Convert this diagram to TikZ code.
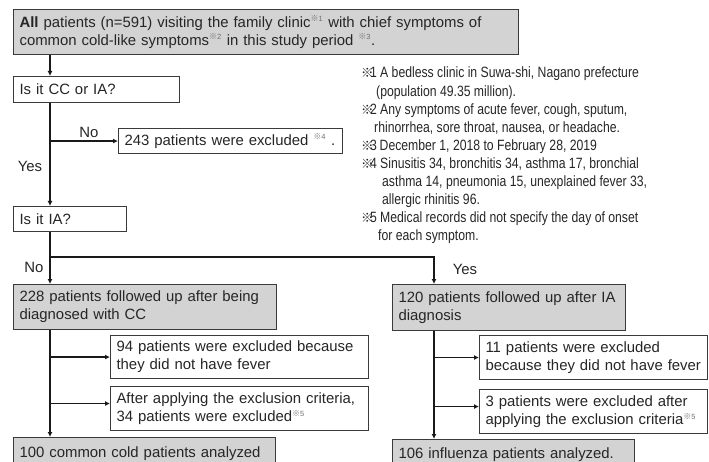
\documentclass[tikz,border=0pt]{standalone}
\usepackage{fontspec}
\setmainfont{Liberation Sans}
\newfontfamily\notefont[FakeStretch=0.82]{Liberation Sans}
\newfontfamily\refmfont{Noto Sans CJK JP}
\usetikzlibrary{arrows.meta}
\definecolor{boxgray}{HTML}{D3D3D3}
\definecolor{txt}{HTML}{262626}
\definecolor{edge}{HTML}{3A3A3A}
\definecolor{supc}{HTML}{707070}
\newcommand\rmk[1]{\textsuperscript{\color{supc}{\refmfont\fontsize{8}{8}\selectfont ※}{\fontsize{7.5}{7.5}\selectfont #1}}}
\newcommand\nlab[1]{\makebox[9pt][l]{\refmfont\fontsize{12.5}{12.5}\selectfont ※}#1}
\tikzset{
  box/.style={draw=edge, line width=1.1pt, anchor=north west, align=left,
    inner xsep=6pt, inner ysep=0pt, text=txt,
    font=\fontsize{14.9}{18}\selectfont},
  grey/.style={box, fill=boxgray},
  white/.style={box, fill=white},
  arr/.style={line width=1.8pt, draw=black!90, -{Latex[length=5pt,width=5pt]}},
  lin/.style={line width=1.8pt, draw=black!90},
  lab/.style={text=txt, font=\fontsize{14.9}{18}\selectfont, inner sep=0pt},
  note/.style={text=txt, font=\notefont\fontsize{14.9}{18}\selectfont, inner sep=0pt, anchor=base west},
}
\begin{document}
\begin{tikzpicture}[x=1pt,y=-1pt]
\path[use as bounding box] (0,0) rectangle (709,462);
\clip (0,0) rectangle (709,462);
\coordinate (sp) at (50,0);
\coordinate (sp2) at (434,0);
\coordinate (j) at (50,257);

\node[grey, minimum width=505pt, minimum height=45pt, text width=493pt] (top) at (13,9)
  {\textbf{All} patients (n=591) visiting the family clinic\rmk{1} with chief symptoms of\\common cold-like symptoms\rmk{2} in this study period \rmk{3}.};
\node[white, minimum width=166pt, minimum height=26pt, text width=154pt] (q1) at (13,76) {Is it CC or IA?};
\node[white, minimum width=224pt, minimum height=25pt, text width=212pt] (ex1) at (118,128) {243 patients were excluded \rmk{4} .};
\node[white, minimum width=113pt, minimum height=25pt, text width=101pt] (q2) at (13,206) {Is it IA?};
\node[grey, minimum width=263pt, minimum height=45pt, text width=251pt] (cc) at (13,284) {228 patients followed up after being\\diagnosed with CC};
\node[grey, minimum width=233pt, minimum height=46pt, text width=221pt] (ia) at (392,284) {120 patients followed up after IA\\diagnosis};
\node[white, minimum width=258pt, minimum height=43pt, text width=246pt] (ccx1) at (110,335) {94 patients were excluded because\\they did not have fever};
\node[white, minimum width=258pt, minimum height=44pt, text width=246pt] (ccx2) at (110,386) {After applying the exclusion criteria,\\34 patients were excluded\rmk{5}};
\node[white, minimum width=228pt, minimum height=44pt, text width=216pt] (iax1) at (479,335) {11 patients were excluded\\because they did not have fever};
\node[white, minimum width=228pt, minimum height=44pt, text width=216pt] (iax2) at (479,389) {3 patients were excluded after\\applying the exclusion criteria\rmk{5}};
\node[grey, minimum width=262pt, minimum height=32pt, text width=250pt] (ccf) at (13,437) {100 common cold patients analyzed};
\node[grey, minimum width=242pt, minimum height=30pt, text width=230pt] (iaf) at (392,439) {106 influenza patients analyzed.};

% labels
\node[lab] (no1) at (89,132) {No};
\node[lab] (yes1) at (30,166) {Yes};
\node[lab] (no2) at (34,267) {No};
\node[lab] (yes2) at (465,269) {Yes};

% connectors
\draw[arr] (top.south -| sp) -- (q1.north -| sp);
\draw[arr] (q1.south -| sp) -- (q2.north -| sp);
\draw[arr] (sp |- ex1.west) -- (ex1.west);
\draw[lin] (q2.south -| sp) -- (j);
\draw[arr] (j) -| (ia.north -| sp2);
\draw[arr] (j) -- (cc.north -| sp);
\draw[arr] (cc.south -| sp) -- (ccf.north -| sp);
\draw[arr] (sp |- ccx1.west) -- (ccx1.west);
\draw[arr] ([yshift=5pt]ccx2.west -| sp) -- ([yshift=5pt]ccx2.west);
\draw[arr] (ia.south -| sp2) -- (iaf.north -| sp2);
\draw[arr] (sp2 |- iax1.west) -- (iax1.west);
\draw[arr] ([yshift=5pt]iax2.west -| sp2) -- ([yshift=5pt]iax2.west);

% notes
\node[note] (m1) at (361,78) {\nlab{1}};
\node[note] (n1a) at (380,78) {A bedless clinic in Suwa-shi, Nagano prefecture};
\node[note] (n1b) at (376,96.1) {(population 49.35 million).};
\node[note] (m2) at (361,114.2) {\nlab{2}};
\node[note] (n2a) at (380,114.2) {Any symptoms of acute fever, cough, sputum,};
\node[note] (n2b) at (374,132.3) {rhinorrhea, sore throat, nausea, or headache.};
\node[note] (m3) at (361,150.4) {\nlab{3}};
\node[note] (n3a) at (379.5,150.4) {December 1, 2018 to February 28, 2019};
\node[note] (m4) at (361,168.5) {\nlab{4}};
\node[note] (n4a) at (380,168.5) {Sinusitis 34, bronchitis 34, asthma 17, bronchial};
\node[note] (n4b) at (382,186.6) {asthma 14, pneumonia 15, unexplained fever 33,};
\node[note] (n4c) at (382,204.7) {allergic rhinitis 96.};
\node[note] (m5) at (361,222.8) {\nlab{5}};
\node[note] (n5a) at (380,222.8) {Medical records did not specify the day of onset};
\node[note] (n5b) at (378,240.9) {for each symptom.};
\end{tikzpicture}
\end{document}
